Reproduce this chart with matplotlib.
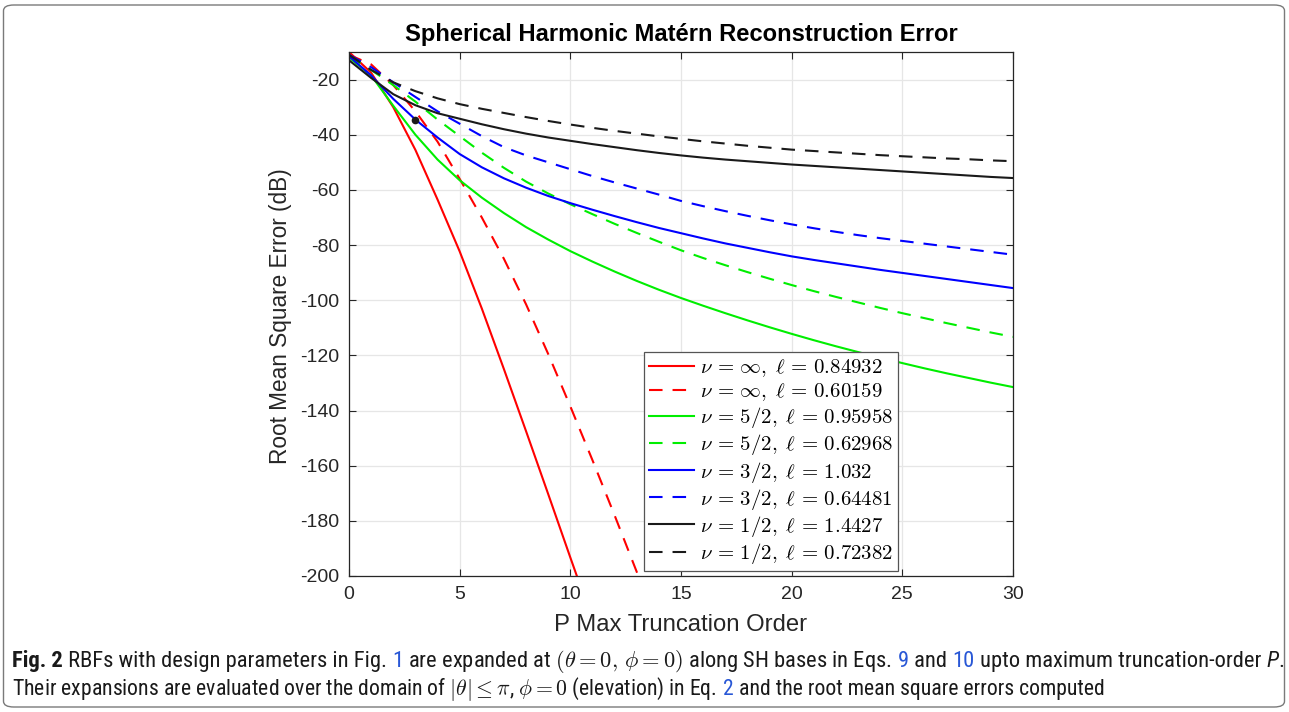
import matplotlib
matplotlib.use('Agg')
import matplotlib.pyplot as plt
from matplotlib.patches import FancyBboxPatch
from matplotlib import font_manager

# ---------------- data ----------------
P = list(range(31))

red_solid = [-10, -17.5, -30, -45.5, -63.5, -82.3, -103, -125, -147.5, -170.3, -193.3, -216]
red_dashed = [-11, -14.5, -22, -31.5, -42.5, -56, -70, -85, -101.5, -119.5, -138.5, -158,
              -178, -198.5, -219]
green_solid = [-12, -18.5, -29.5, -40, -49, -56.5, -62.8, -68.4, -73.5, -78, -82.2, -86, -89.6,
               -93, -96.2, -99.2, -102, -104.7, -107.3, -109.8, -112.2, -114.5, -116.7, -118.8,
               -120.8, -122.8, -124.7, -126.5, -128.2, -129.9, -131.5]
green_dashed = [-11.5, -16.5, -22, -28, -34.5, -40.5, -46.5, -52, -57, -61.3, -65.2, -68.8, -72.3,
                -75.6, -78.8, -81.9, -84.7, -87.3, -89.8, -92.2, -94.5, -96.7, -98.8, -100.8,
                -102.8, -104.7, -106.5, -108.3, -110, -111.7, -113.3]
blue_solid = [-11.5, -18.5, -27, -34.5, -41, -47, -51.8, -55.8, -59.2, -62.2, -64.8, -67.2, -69.5,
              -71.7, -73.8, -75.7, -77.6, -79.4, -81.0, -82.6, -84.1, -85.4, -86.6, -87.8,
              -89.0, -90.1, -91.2, -92.3, -93.4, -94.5, -95.6]
blue_dashed = [-11, -15.5, -21, -26.3, -31.5, -36, -40.5, -44.5, -47.5, -50, -52.5, -55, -57.3,
               -59.5, -61.7, -64, -65.9, -67.7, -69.4, -71, -72.5, -73.9, -75.2, -76.4, -77.5,
               -78.5, -79.5, -80.5, -81.5, -82.5, -83.5]
black_solid = [-13, -19.4, -25.3, -29.3, -32.2, -34.2, -36.2, -38, -39.6, -41, -42.2, -43.4,
               -44.5, -45.6, -46.6, -47.5, -48.3, -49, -49.6, -50.2, -50.8, -51.3, -51.8, -52.3,
               -52.8, -53.3, -53.8, -54.3, -54.8, -55.3, -55.7]
black_dashed = [-11, -16.5, -21, -24.2, -26.8, -28.9, -30.6, -32.1, -33.6, -35, -36.3, -37.5,
                -38.6, -39.6, -40.6, -41.5, -42.4, -43.2, -44, -44.7, -45.4, -45.9, -46.4, -46.9,
                -47.4, -47.8, -48.2, -48.6, -48.9, -49.3, -49.6]
marker_point = (3, -34.5)

labels = [r'$\nu\,=\,\infty,\;\ell\,=\,0.84932$', r'$\nu\,=\,\infty,\;\ell\,=\,0.60159$',
          r'$\nu\,=\,5/2,\;\ell\,=\,0.95958$', r'$\nu\,=\,5/2,\;\ell\,=\,0.62968$',
          r'$\nu\,=\,3/2,\;\ell\,=\,1.032$', r'$\nu\,=\,3/2,\;\ell\,=\,0.64481$',
          r'$\nu\,=\,1/2,\;\ell\,=\,1.4427$', r'$\nu\,=\,1/2,\;\ell\,=\,0.72382$']

xticks = [0, 5, 10, 15, 20, 25, 30]
yticks = [-200, -180, -160, -140, -120, -100, -80, -60, -40, -20]

title = 'Spherical Harmonic Matérn Reconstruction Error'
xlabel = 'P Max Truncation Order'
ylabel = 'Root Mean Square Error (dB)'

# ---------------- style ----------------
W, H = 1289, 712
plt.rcParams['font.family'] = ['Liberation Sans', 'DejaVu Sans']
plt.rcParams['mathtext.fontset'] = 'cm'
plt.rcParams['axes.unicode_minus'] = False

fig = plt.figure(figsize=(W / 100, H / 100), dpi=100)
fig.patch.set_facecolor('white')

# outer rounded frame
frame = FancyBboxPatch((3.5 / W, 5 / H), (W - 8) / W, (H - 10) / H,
                       boxstyle='round,pad=0,rounding_size=0.008',
                       transform=fig.transFigure, facecolor='none',
                       edgecolor='#7a7a7a', lw=1.0)
fig.patches.append(frame)

ax = fig.add_axes([349 / W, 1 - 576 / H, (1013 - 349) / W, (576 - 52) / H])

series = [
    (red_solid, '#ff0000', '-'),
    (red_dashed, '#ff0000', '--'),
    (green_solid, '#00ee00', '-'),
    (green_dashed, '#00ee00', '--'),
    (blue_solid, '#0000ff', '-'),
    (blue_dashed, '#0000ff', '--'),
    (black_solid, '#1a1a1a', '-'),
    (black_dashed, '#1a1a1a', '--'),
]
handles = []
for (vals, col, ls), lab in zip(series, labels):
    dash = (0, (6.5, 4.8)) if ls == '--' else '-'
    h, = ax.plot(P[:len(vals)], vals, color=col, lw=1.5, linestyle=dash, label=lab)
    handles.append(h)
ax.plot([marker_point[0]], [marker_point[1]], 'o', color='#1a1a1a', ms=4.5)

ax.set_xlim(0, 30)
ax.set_ylim(-200, -10)
ax.set_xticks(xticks)
ax.set_yticks(yticks)
ax.grid(True, color='#e6e6e6', lw=0.9)
ax.set_axisbelow(True)
for s in ax.spines.values():
    s.set_color('#262626')
    s.set_linewidth(0.9)
ax.tick_params(direction='in', length=5, width=0.8, colors='#262626',
               top=True, right=True, labelsize=14, pad=7)
for lab in ax.get_xticklabels() + ax.get_yticklabels():
    lab.set_color('#262626')

leg = ax.legend(handles=handles, loc='lower right',
                bbox_to_anchor=(898 / W, 1 - 571 / H), bbox_transform=fig.transFigure,
                fontsize=15, frameon=True, fancybox=False, framealpha=1,
                edgecolor='#555555', borderpad=0.25, labelspacing=0.1,
                handlelength=2.16, handletextpad=0.26, borderaxespad=0)
leg.get_frame().set_linewidth(0.9)

# title and labels
t_title = fig.text(681 / W, 1 - 35 / H, title, ha='center', va='center',
                   fontsize=15, fontweight='bold', color='#000000')
t_xl = fig.text(681 / W, 1 - 625 / H, xlabel, ha='center', va='center',
                fontsize=15, color='#262626')
t_yl = fig.text(281 / W, 1 - 316 / H, ylabel, ha='center', va='center',
                rotation=90, fontsize=15, color='#262626')

fig.canvas.draw()
r = fig.canvas.get_renderer()


def fit(t, target, horiz=True):
    for _ in range(3):
        bb = t.get_window_extent(r)
        cur = bb.width if horiz else bb.height
        t.set_fontsize(t.get_fontsize() * target / cur)


fit(t_title, 552)
fit(t_xl, 253)
fit(t_yl, 296, horiz=False)

# caption
cap_family = ['Liberation Sans', 'DejaVu Sans']
for cand in ['Liberation Sans Narrow', 'Roboto Condensed', 'Open Sans Condensed']:
    try:
        font_manager.findfont(font_manager.FontProperties(family=cand),
                              fallback_to_default=False)
        cap_family = [cand, 'Liberation Sans', 'DejaVu Sans']
        break
    except Exception:
        pass

blue = '#2857d6'
line1 = [('Fig. 2', dict(fontweight='bold')),
         (' RBFs with design parameters in Fig. ', {}),
         ('1', dict(color=blue)),
         (r' are expanded at $(\theta=0,\,\phi=0)$ along SH bases in Eqs. ', {}),
         ('9', dict(color=blue)),
         (' and ', {}),
         ('10', dict(color=blue)),
         (' upto maximum truncation-order ', {}),
         ('P', dict(style='italic')),
         ('.', {})]
line2 = [(r'Their expansions are evaluated over the domain of $|\theta|\leq\pi$, $\phi=0$ (elevation) in Eq. ', {}),
         ('2', dict(color=blue)),
         (' and the root mean square errors computed', {})]


def adv(s, fs, kw):
    t1 = fig.text(0, 0, s + 'x', fontsize=fs, family=cap_family, **kw)
    t2 = fig.text(0, 0, 'x', fontsize=fs, family=cap_family, **kw)
    w = t1.get_window_extent(r).width - t2.get_window_extent(r).width
    t1.remove()
    t2.remove()
    return w


def draw_line(pieces, x0, y, target):
    fs = 10
    total = sum(adv(s, fs, kw) for s, kw in pieces)
    fs = fs * target / total
    x = x0
    for s, kw in pieces:
        kw2 = dict(kw)
        kw2.setdefault('color', '#1a1a1a')
        fig.text(x / W, 1 - y / H, s, fontsize=fs, family=cap_family, va='baseline', **kw2)
        x += adv(s, fs, kw)
    return fs


draw_line(line1, 12, 667, 1266)
draw_line(line2, 12, 695, 1095)

fig.savefig('out.png', dpi=100, facecolor='white')
